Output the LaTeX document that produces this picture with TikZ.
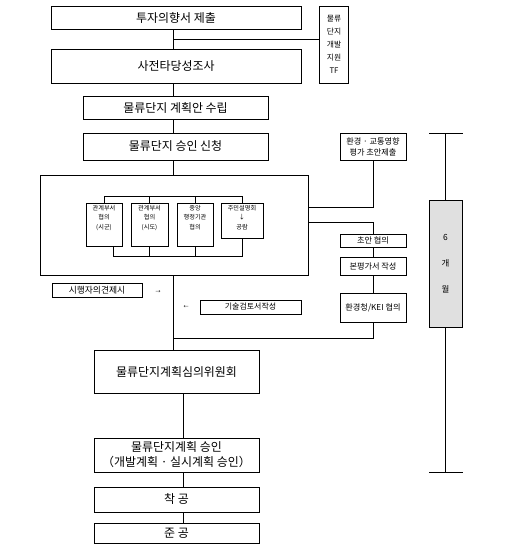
\documentclass[tikz,border=0pt]{standalone}
\usepackage{fontspec}
\setmainfont{Noto Sans CJK KR}
\usepackage{tikz}
\definecolor{Bar}{RGB}{224,224,224}

\begin{document}
\begin{tikzpicture}[x=1bp, y=-1bp, line width=0.9bp,
    mainbox/.style={draw, minimum width=250bp, inner sep=0pt, font=\fontsize{12}{14}\selectfont},
    stepbox/.style={draw, minimum width=185bp, inner sep=0pt, font=\fontsize{12}{14}\selectfont},
    lowbox/.style={draw, minimum width=165bp, inner sep=0pt, align=center, font=\fontsize{12}{15}\selectfont},
    sidebox/.style={draw, minimum width=66bp, inner sep=0pt, align=center, font=\fontsize{8.2}{11}\selectfont},
    subbox/.style={draw, inner sep=0pt},
    subtxt/.style={inner sep=2bp, align=center, font=\fontsize{6.2}{9.5}\selectfont},
    notebox/.style={draw, inner sep=0pt, minimum height=14bp, font=\fontsize{8.8}{10}\selectfont},
    tinyarr/.style={inner sep=0pt, font=\fontsize{5}{5}\selectfont}]
    \useasboundingbox (0,0) rectangle (512,556);
    \coordinate (spine) at (173,0);
    \coordinate (spine2) at (183,0);

    % main column
    \node[mainbox, minimum height=23bp] (invest) at (176,17.5) {투자의향서 제출};
    \node[mainbox, minimum height=34bp] (prefeas) at (176,66) {사전타당성조사};
    \node[stepbox, minimum height=23bp] (plan) at (175.5,107.5) {물류단지 계획안 수립};
    \node[stepbox, minimum height=27bp] (apply) at (175.5,146.5) {물류단지 승인 신청};
    \node[draw, minimum width=29bp, minimum height=77bp, inner sep=0pt, align=center,
          font=\fontsize{7.8}{13}\selectfont] (tf) at (334,44.5) {물류\\단지\\개발\\지원\\TF};

    \coordinate (tflink) at (0,39.5);
    \draw (invest.south -| spine) -- (prefeas.north -| spine);
    \draw (spine |- tflink) -- (tf.west |- tflink);
    \draw (prefeas.south -| spine) -- (plan.north -| spine);
    \draw (plan.south -| spine) -- (apply.north -| spine);

    % consultation block
    \node[draw, minimum width=268bp, minimum height=100bp, inner sep=0pt] (review) at (174,225) {};
    \draw (apply.south -| spine) -- (review.north -| spine);
    \node[subbox, minimum width=36bp, minimum height=43bp] (relA) at (104,224.5) {};
    \node[subbox, minimum width=37bp, minimum height=43bp] (relB) at (149.5,224.5) {};
    \node[subbox, minimum width=36bp, minimum height=43bp] (govC) at (195,224.5) {};
    \node[subbox, minimum width=42bp, minimum height=35bp] (resD) at (242,220.5) {};
    \node[subtxt, anchor=north] (relAt) at (relA.north) {관계부서\\협의\\(시군)};
    \node[subtxt, anchor=north] (relBt) at (relB.north) {관계부서\\협의\\(시도)};
    \node[subtxt, anchor=north] (govCt) at (govC.north) {중앙\\행정기관\\협의};
    \node[subtxt, anchor=north] (resDt) at (resD.north) {주민설명회\\↓\\공람};

    \coordinate (topbus) at (0,196);
    \coordinate (botbus) at (0,256);
    \draw (relA.north) |- (resD.north |- topbus) -- (resD.north);
    \draw (relB.north) -- (relB.north |- topbus);
    \draw (govC.north) -- (govC.north |- topbus);
    \draw ([xshift=9bp]relA.south) |- (resD.south |- botbus) -- (resD.south);
    \draw (relB.south) -- (relB.south |- botbus);
    \draw (govC.south) -- (govC.south |- botbus);

    % environment / traffic assessment
    \node[sidebox, minimum height=27bp] (envdraft) at (373,146.5) {환경 · 교통영향\\평가 초안제출};
    \node[sidebox, minimum height=13bp] (draftok) at (373,240.5) {초안 협의};
    \node[sidebox, minimum height=18bp] (mainrep) at (373,266) {본평가서 작성};
    \node[sidebox, minimum height=29bp] (kei) at (373,307.5) {환경청/KEI 협의};

    \coordinate (envin) at (0,207);
    \coordinate (envout) at (0,222);
    \coordinate (keiout) at (0,338);
    \draw (envdraft.south) |- (review.east |- envin);
    \draw (review.east |- envout) -| (draftok.north);
    \draw (draftok) -- (mainrep);
    \draw (mainrep) -- (kei);
    \draw (kei.south) |- (spine |- keiout);

    % six months
    \node[draw, fill=Bar, minimum width=33bp, minimum height=127bp, inner sep=0pt, align=center,
          font=\fontsize{8.5}{26}\selectfont] (sixmon) at (445.5,263.5) {6\\개\\월};
    \coordinate (capTL) at (429,133);
    \coordinate (capTR) at (463,133);
    \coordinate (capBL) at (429,472);
    \coordinate (capBR) at (463,472);
    \draw (capTL) -- (capTR);
    \draw (sixmon.north) -- (sixmon.north |- capTL);
    \draw (sixmon.south) -- (sixmon.south |- capBL);
    \draw (capBL) -- (capBR);

    % notes beside the spine
    \node[notebox, minimum width=90bp] (opinion) at (97,290) {시행자의견제시};
    \node[tinyarr] (arrR) at (158,292) {→};
    \node[tinyarr] (arrL) at (186,307) {←};
    \node[notebox, minimum width=101bp, font=\fontsize{8}{10}\selectfont] (techrev) at (250.5,307) {기술검토서작성};

    % lower column
    \node[lowbox, minimum height=43bp] (commit) at (176.5,371.5) {물류단지계획심의위원회};
    \node[lowbox, minimum height=34bp] (approve) at (176.5,455) {물류단지계획 승인\\（개발계획 · 실시계획 승인）};
    \node[lowbox, minimum height=25bp] (start) at (176.5,499.5) {착 공};
    \node[lowbox, minimum height=20bp] (finish) at (176.5,533) {준 공};

    \draw (review.south -| spine) -- (commit.north -| spine);
    \draw (commit.south -| spine2) -- (approve.north -| spine2);
    \draw (approve.south -| spine2) -- (start.north -| spine2);
    \draw (start.south -| spine2) -- (finish.north -| spine2);
\end{tikzpicture}
\end{document}
